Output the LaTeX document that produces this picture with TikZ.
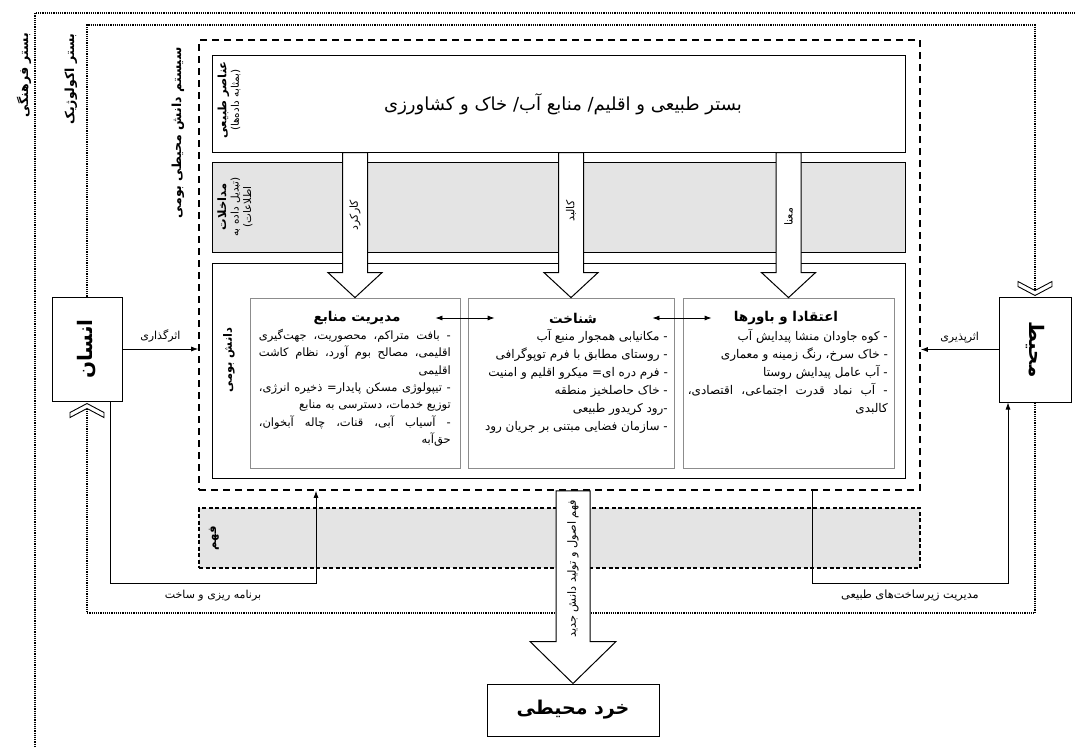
\documentclass[tikz,border=0pt]{standalone}
\usepackage{fontspec}
\newfontfamily\farsi[Script=Arabic]{DejaVu Sans}
\TeXXeTstate=1
\usetikzlibrary{arrows.meta,calc,positioning}
\definecolor{boxgray}{RGB}{228,228,228}
\definecolor{edgegray}{RGB}{140,140,140}
\newcommand{\fatext}[1]{{\farsi\beginR #1\endR}}
% hollow block arrow: start, tip, shaft half width, head half width, head length
\newcommand{\hollowdown}[5]{%
  \draw[arrowbody] let \p1=(#1), \p2=(#2) in
    (\x2-#3,\y1) -- (\x2-#3,\y2+#5) -- (\x2-#4,\y2+#5) -- (\x2,\y2)
    -- (\x2+#4,\y2+#5) -- (\x2+#3,\y2+#5) -- (\x2+#3,\y1) -- cycle;}
% open chevron on a dotted line
\newcommand{\chevron}[2]{%
  \draw[chev, shift={(#1)}, yscale=#2] (-17,14) -- (0,5) -- (17,14) -- (17,9) -- (0,0) -- (-17,9) -- cycle;}

\tikzset{
  frame/.style={draw, line width=1.2pt, densely dotted},
  sysframe/.style={draw, line width=1.6pt, dash pattern=on 7pt off 5pt},
  fahmframe/.style={draw, line width=1.8pt, dash pattern=on 4pt off 2.5pt, fill=boxgray},
  layer/.style={draw, line width=1pt, minimum width=693pt, inner sep=0pt},
  subbox/.style={draw=edgegray, line width=0.8pt, minimum height=170pt, inner sep=0pt},
  sidebox/.style={draw, line width=1pt, fill=white, inner sep=0pt},
  conn/.style={line width=0.8pt},
  arrowend/.style={-{Latex[length=7pt,width=5pt]}},
  arrowbody/.style={draw, line width=1pt, fill=white, line join=miter},
  chev/.style={draw, line width=0.9pt, fill=white},
  sidelabel/.style={rotate=90, font=\bfseries\fontsize{12.5}{14}\selectfont},
  titlefont/.style={font=\bfseries\fontsize{13.5}{15}\selectfont, inner sep=0pt},
  listtext/.style={align=right, inner sep=0pt, font=\fontsize{12}{18}\selectfont},
  smalllabel/.style={font=\fontsize{11}{13}\selectfont, inner sep=1pt}
}

\begin{document}
\begin{tikzpicture}[x=1pt,y=-1pt]
\useasboundingbox (0,0) rectangle (1076,747);

% cultural and ecological frames
\draw[frame] (35,747) -- (35,13) -- (1076,13);
\node[sidelabel] (cultT) at (24,75) {\fatext{بستر فرهنگی}};
\node[sidelabel] (ecoT) at (71,79) {\fatext{بستر اکولوژیک}};
\coordinate (ecoTL) at (87,25);
\coordinate (ecoTR) at (1035,25);
\coordinate (ecoBL) at (87,613);
\coordinate (ecoBR) at (1035,613);

% side boxes
\node[sidebox, minimum width=70pt, minimum height=104pt] (ensan) at (87,349) {};
\node[sidebox, minimum width=72pt, minimum height=105pt] (mohit) at (1035,349.5) {};
\draw[frame] (ensan.north) -- (ecoTL) -- (ecoTR) -- ($(mohit.north)+(0,-6)$);
\draw[frame] ($(ensan.south)+(0,7)$) -- (ecoBL) -- (ecoBR) -- (mohit.south);
\node[sidebox, minimum width=70pt, minimum height=104pt] (ensan) at (87,349) {};
\node[sidebox, minimum width=72pt, minimum height=105pt] (mohit) at (1035,349.5) {};
\node[rotate=90, font=\bfseries\fontsize{20}{22}\selectfont] (ensanT) at (ensan) {\fatext{انسان}};
\node[rotate=-90, font=\bfseries\fontsize{20}{22}\selectfont] (mohitT) at (mohit) {\fatext{محیط}};
\chevron{$(ensan.south)+(0,2)$}{1}
\chevron{$(mohit.north)+(0,-1)$}{-1}

% indigenous knowledge system
\node[sysframe, minimum width=721pt, minimum height=450pt] (sys) at (559.5,265) {};
\node[sidelabel] (sysT) at (178,133) {\fatext{سیستم دانش محیطی بومی}};

\node[layer, minimum height=97pt] (nat) at (558.5,103.5) {};
\node[layer, fill=boxgray, minimum height=90pt] (intv) at (558.5,207) {};
\node[layer, minimum height=215pt] (dk) at (558.5,370.5) {};

\node[font=\fontsize{18}{20}\selectfont] (natT) at (563,104) {\fatext{بستر طبیعی و اقلیم/ منابع آب/ خاک و کشاورزی}};
\node[rotate=90, align=center, font=\fontsize{10.5}{12.5}\selectfont] (natS) at (229,100)
  {{\bfseries\fontsize{11.5}{13}\selectfont\fatext{عناصر طبیعی}}\\\fatext{(بمثابه داده‌ها)}};
\node[rotate=90, align=center, font=\fontsize{10.5}{12.5}\selectfont] (intvS) at (235,207)
  {{\bfseries\fontsize{11.5}{13}\selectfont\fatext{مداخلات}}\\\fatext{(تبدیل داده به}\\\fatext{اطلاعات)}};
\node[rotate=90, font=\bfseries\fontsize{11.5}{13}\selectfont] (dkS) at (229,360) {\fatext{دانش بومی}};

% three fields of local knowledge
\node[subbox, minimum width=210pt] (mgmt) at (355,383) {};
\node[subbox, minimum width=206pt] (shen) at (571,383) {};
\node[subbox, minimum width=211pt] (etq) at (788.5,383) {};

\node[titlefont] (mgmtT) at (357,318) {\fatext{مدیریت منابع}};
\node[titlefont] (shenT) at (573,318) {\fatext{شناخت}};
\node[titlefont] (etqT) at (786,318) {\fatext{اعتقادا و باورها}};

\node[listtext, anchor=north east, font=\fontsize{11.5}{17.3}\selectfont] (mgmtL) at (451,329) {%
  \makebox[192pt][s]{\farsi\beginR - بافت متراکم، محصوریت، جهت‌گیری\endR}\\
  \makebox[192pt][s]{\farsi\beginR اقلیمی، مصالح بوم آورد، نظام کاشت\endR}\\
  \fatext{اقلیمی}\\
  \makebox[192pt][s]{\farsi\beginR - تیپولوژی مسکن پایدار= ذخیره انرژی،\endR}\\
  \fatext{توزیع خدمات، دسترسی به منابع}\\
  \makebox[192pt][s]{\farsi\beginR - آسیاب آبی، قنات، چاله آبخوان،\endR}\\
  \fatext{حق‌آبه}};
\node[listtext, anchor=north east] (shenL) at (668,329) {%
  \fatext{- مکانیابی همجوار منبع آب}\\
  \fatext{- روستای مطابق با فرم توپوگرافی}\\
  \fatext{- فرم دره ای= میکرو اقلیم و امنیت}\\
  \fatext{- خاک حاصلخیز منطقه}\\
  \fatext{-رود کریدور طبیعی}\\
  \fatext{- سازمان فضایی مبتنی بر جریان رود}};
\node[listtext, anchor=north east] (etqL) at (888,329) {%
  \fatext{- کوه جاودان منشا پیدایش آب}\\
  \fatext{- خاک سرخ، رنگ زمینه و معماری}\\
  \fatext{- آب عامل پیدایش روستا}\\
  \makebox[200pt][s]{\farsi\beginR - آب نماد قدرت اجتماعی، اقتصادی،\endR}\\
  \fatext{کالبدی}};

\draw[conn, {Latex[length=7pt,width=5pt]}-{Latex[length=7pt,width=5pt]}]
  ($(mgmt.east |- mgmtT)+(-25,0)$) -- ($(shen.west |- mgmtT)+(27,0)$);
\draw[conn, {Latex[length=7pt,width=5pt]}-{Latex[length=7pt,width=5pt]}]
  ($(shen.east |- shenT)+(-22,0)$) -- ($(etq.west |- shenT)+(29,0)$);

% block arrows from the natural elements
\hollowdown{nat.south -| mgmt.north}{mgmt.north}{12.5pt}{27pt}{25pt}
\hollowdown{nat.south -| shen.north}{shen.north}{12.5pt}{27pt}{25pt}
\hollowdown{nat.south -| etq.north}{etq.north}{12.5pt}{27pt}{25pt}
\node[rotate=90, smalllabel] (karT) at ($(mgmt.north |- intv.center)+(0,8)$) {\fatext{کارکرد}};
\node[rotate=90, smalllabel] (kalT) at ($(shen.north |- intv.center)+(0,4)$) {\fatext{کالبد}};
\node[rotate=90, smalllabel] (manT) at ($(etq.north |- intv.center)+(0,10)$) {\fatext{معنا}};

% understanding
\node[fahmframe, minimum width=721pt, minimum height=60pt] (fahm) at (559.5,538) {};
\node[rotate=90, font=\bfseries\fontsize{11.5}{13}\selectfont] (fahmT) at (214,538) {\fatext{فهم}};

% human and environment links
\draw[conn, arrowend] (ensan.east) -- (ensan.east -| sys.west)
  node[midway, above=5pt, smalllabel] (effT) {\fatext{اثرگذاری}};
\draw[conn, arrowend] (mohit.west) -- (mohit.west -| sys.east)
  node[midway, above=5pt, smalllabel] (affT) {\fatext{اثرپذیری}};

\coordinate (planA) at (110,583);
\coordinate (planB) at (316,583);
\draw[conn, arrowend] (ensan.south -| planA) -- (planA) -- (planB)
  node[midway, below=6pt, smalllabel] (planT) {\fatext{برنامه ریزی و ساخت}}
  -- (planB |- sys.south);
\coordinate (infA) at (812,583);
\coordinate (infB) at (1008,583);
\draw[conn, arrowend] (infA |- sys.south) -- (infA) -- (infB)
  node[midway, below=6pt, smalllabel, font=\fontsize{11.3}{13}\selectfont] (infT) {\fatext{مدیریت زیرساخت‌های طبیعی}}
  -- (infB |- mohit.south);

% micro-environmental wisdom
\node[sidebox, minimum width=172pt, minimum height=52pt, font=\bfseries\fontsize{19}{22}\selectfont] (khord) at (573,710) {\fatext{خرد محیطی}};
\hollowdown{sys.south -| khord.north}{khord.north}{17pt}{43pt}{42pt}
\node[rotate=90, smalllabel, font=\fontsize{11.3}{13}\selectfont] (newT) at ($(khord.north |- sys.south)+(0,78)$) {\fatext{فهم اصول و تولید دانش جدید}};
\end{tikzpicture}
\end{document}
